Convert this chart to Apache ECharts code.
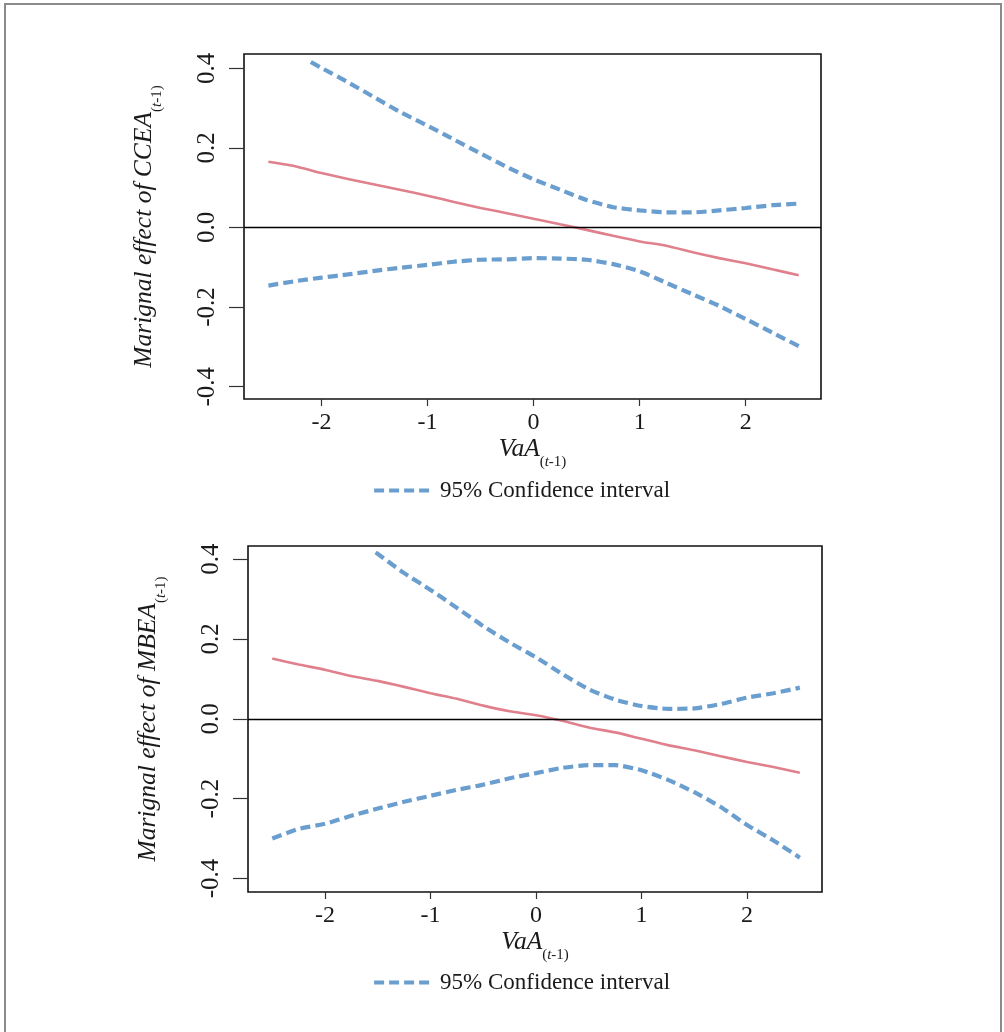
<!DOCTYPE html>
<html>
<head>
<meta charset="utf-8">
<script src="https://cdn.jsdelivr.net/npm/echarts@6/dist/echarts.min.js"></script>
<style>
html,body{margin:0;padding:0;background:#fff;}
#chart{width:1004px;height:1032px;}
</style>
</head>
<body>
<div id="chart"></div>
<script>
// ---------- data ----------
const xGrid = [-2.5,-2.25,-2.0,-1.75,-1.5,-1.25,-1.0,-0.75,-0.5,-0.25,0,0.25,0.5,0.75,1.0,1.25,1.5,1.75,2.0,2.25,2.5];
const xTicks = [-2,-1,0,1,2];
const yTicks = [-0.4,-0.2,0,0.2,0.4];

// Panel 1: marginal effect of CCEA(t-1)
const cceaEffect = [0.165,0.154,0.137,0.122,0.108,0.094,0.080,0.064,0.049,0.036,0.022,0.008,-0.006,-0.021,-0.035,-0.046,-0.062,-0.077,-0.090,-0.105,-0.120];
const cceaUpperX = [-2.1,-2.0,-1.75,-1.5,-1.25,-1.0,-0.75,-0.5,-0.25,0,0.25,0.5,0.75,1.0,1.25,1.5,1.75,2.0,2.25,2.5];
const cceaUpper = [0.416,0.401,0.365,0.327,0.289,0.256,0.221,0.186,0.152,0.121,0.095,0.069,0.051,0.043,0.038,0.038,0.043,0.049,0.056,0.060];
const cceaLower = [-0.146,-0.135,-0.126,-0.118,-0.109,-0.101,-0.094,-0.086,-0.081,-0.080,-0.077,-0.078,-0.081,-0.092,-0.110,-0.139,-0.168,-0.197,-0.230,-0.264,-0.298];

// Panel 2: marginal effect of MBEA(t-1)
const mbeaEffect = [0.151,0.136,0.123,0.107,0.095,0.080,0.064,0.050,0.033,0.019,0.009,-0.005,-0.022,-0.034,-0.050,-0.066,-0.079,-0.094,-0.108,-0.121,-0.135];
const mbeaUpperX = [-1.52,-1.25,-1.0,-0.75,-0.5,-0.25,0,0.25,0.5,0.75,1.0,1.25,1.5,1.75,2.0,2.25,2.5];
const mbeaUpper = [0.417,0.365,0.323,0.278,0.232,0.191,0.154,0.112,0.074,0.048,0.032,0.025,0.026,0.037,0.053,0.064,0.078];
const mbeaLower = [-0.300,-0.276,-0.263,-0.243,-0.225,-0.208,-0.193,-0.178,-0.165,-0.149,-0.136,-0.123,-0.116,-0.116,-0.129,-0.153,-0.184,-0.221,-0.266,-0.305,-0.348];

const ciName = '95% Confidence interval';
const effName = 'Marginal effect';

// ---------- styles ----------
const SERIF = '"Liberation Serif","Times New Roman",serif';
const BLUE = '#6a9ecf';
const RED = '#e0808c';
const INK = '#1a1a1a';
const DASH = [10, 5];

const richTitle = {
  m: {fontFamily: SERIF, fontStyle: 'italic', fontSize: 25.5, lineHeight: 30, verticalAlign: 'top', color: INK},
  s: {fontFamily: SERIF, fontStyle: 'normal', fontSize: 15, lineHeight: 16, padding: [19,0,0,0], verticalAlign: 'top', color: INK},
  si: {fontFamily: SERIF, fontStyle: 'italic', fontSize: 15, lineHeight: 16, padding: [19,0,0,0], verticalAlign: 'top', color: INK}
};

const pair = (xs, ys) => xs.map((x, i) => [x, ys[i]]);

function xAxisFor(gi) {
  return {
    type: 'value', gridIndex: gi, min: -2.73, max: 2.71,
    name: '{m|VaA}{s|(}{si|t}{s|-1)}',
    nameLocation: 'middle', nameGap: 35,
    nameTextStyle: {rich: richTitle},
    splitLine: {show: false},
    axisLine: {show: false, onZero: false},
    axisTick: {show: true, customValues: xTicks, length: 7, lineStyle: {color: '#333', width: 1.2}},
    axisLabel: {customValues: xTicks, margin: 12, fontFamily: SERIF, fontSize: 24, color: INK,
      formatter: v => String(v)}
  };
}
function yAxisFor(gi, label, lim) {
  return {
    type: 'value', gridIndex: gi, min: lim[0], max: lim[1],
    name: '{m|Marignal effect of ' + label + '}{s|(}{si|t}{s|-1)}',
    nameLocation: 'middle', nameGap: 83, nameRotate: 90,
    nameTextStyle: {rich: richTitle},
    splitLine: {show: false},
    axisLine: {show: false, onZero: false},
    axisTick: {show: true, customValues: yTicks, length: 15, lineStyle: {color: '#333', width: 1.2}},
    axisLabel: {customValues: yTicks, rotate: 90, margin: 24, fontFamily: SERIF, fontSize: 25, color: INK,
      formatter: v => v.toFixed(1)}
  };
}
function ciSeries(gi, data) {
  return {
    name: ciName, type: 'line', xAxisIndex: gi, yAxisIndex: gi, data: data,
    symbol: 'none', smooth: 0.2, silent: true,
    lineStyle: {color: BLUE, width: 4.2, type: DASH},
    itemStyle: {color: BLUE}
  };
}
function effSeries(gi, data) {
  return {
    name: effName, type: 'line', xAxisIndex: gi, yAxisIndex: gi, data: data,
    symbol: 'none', smooth: 0.2, silent: true,
    lineStyle: {color: RED, width: 2.6},
    itemStyle: {color: RED},
    markLine: {silent: true, symbol: 'none', label: {show: false},
      lineStyle: {color: '#000', width: 1.3, type: 'solid'},
      data: [{yAxis: 0}]}
  };
}
function legendFor(top) {
  return {
    top: top, left: 367, itemWidth: 57, itemHeight: 14, selectedMode: false,
    data: [ciName],
    itemStyle: {color: 'rgba(0,0,0,0)', borderWidth: 0},
    lineStyle: {color: BLUE, width: 4.2, type: DASH},
    textStyle: {fontFamily: SERIF, fontSize: 23, color: INK, padding: [0,0,0,4]}
  };
}

const chart = echarts.init(document.getElementById('chart'), null, {renderer: 'canvas'});
chart.setOption({
  animation: false,
  backgroundColor: '#fff',
  grid: [
    {left: 244, top: 54, width: 577, height: 345, show: true, borderColor: '#111', borderWidth: 1.6, backgroundColor: 'transparent'},
    {left: 248, top: 546, width: 574, height: 346, show: true, borderColor: '#111', borderWidth: 1.6, backgroundColor: 'transparent'}
  ],
  xAxis: [xAxisFor(0), xAxisFor(1)],
  yAxis: [yAxisFor(0, 'CCEA', [-0.431, 0.436]), yAxisFor(1, 'MBEA', [-0.434, 0.433])],
  legend: [legendFor(474), legendFor(966)],
  graphic: [
    {type: 'rect', z: -10, silent: true, shape: {x: 5, y: 4, width: 996, height: 1045},
     style: {fill: 'none', stroke: '#8a8a8a', lineWidth: 2}}
  ],
  series: [
    effSeries(0, pair(xGrid, cceaEffect)),
    ciSeries(0, pair(cceaUpperX, cceaUpper)),
    ciSeries(0, pair(xGrid, cceaLower)),
    effSeries(1, pair(xGrid, mbeaEffect)),
    ciSeries(1, pair(mbeaUpperX, mbeaUpper)),
    ciSeries(1, pair(xGrid, mbeaLower))
  ]
});
</script>
</body>
</html>
